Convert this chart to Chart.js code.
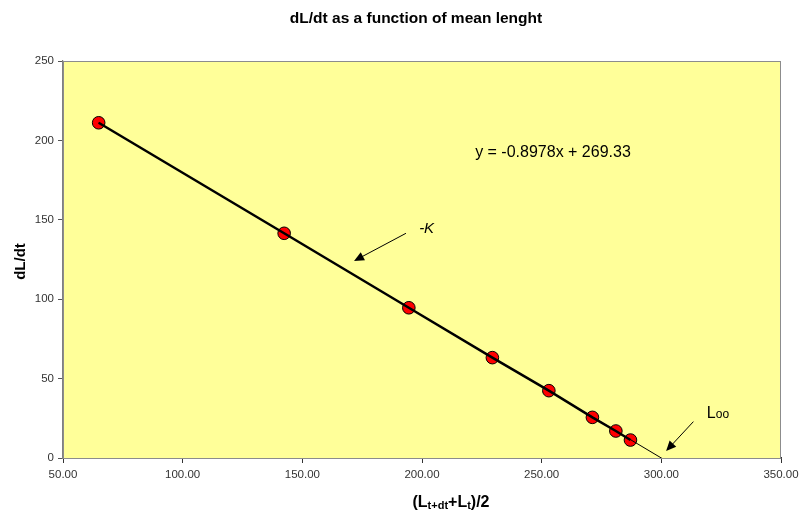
<!DOCTYPE html>
<html>
<head>
<meta charset="utf-8">
<script src="https://cdn.jsdelivr.net/npm/chart.js@4"></script>
<style>
  html, body { margin: 0; padding: 0; background: #ffffff; }
  #wrap { width: 799px; height: 513px; position: relative; }
</style>
</head>
<body>
<div id="wrap"><canvas id="c" width="799" height="513"></canvas></div>
<script>
// Mean length (L(t+dt)+L(t))/2 and growth rate dL/dt
const meanLength = [64.9, 142.4, 194.5, 229.4, 253.0, 271.2, 281.0, 287.1];
const growthRate = [211.1, 141.5, 94.6, 63.2, 42.4, 25.6, 17.0, 11.3];

// Linear trendline coefficients, projected forward past the last observation
const slope = -0.8978;
const intercept = 269.33;
const trendEndX = 302;

const xTicks = [50, 100, 150, 200, 250, 300, 350];
const yTicks = [0, 50, 100, 150, 200, 250];

const points = meanLength.map((x, i) => ({ x: x, y: growthRate[i] }));
const trend = [meanLength[0], trendEndX].map(x => ({ x: x, y: slope * x + intercept }));

const FONT = '"Liberation Sans", Arial, Helvetica, sans-serif';

function arrow(ctx, x0, y0, x1, y1) {
  const ang = Math.atan2(y1 - y0, x1 - x0);
  const len = 10, half = 4.5;
  ctx.save();
  ctx.strokeStyle = '#000';
  ctx.fillStyle = '#000';
  ctx.lineWidth = 1;
  ctx.beginPath();
  ctx.moveTo(x0, y0);
  ctx.lineTo(x1 - Math.cos(ang) * len * 0.8, y1 - Math.sin(ang) * len * 0.8);
  ctx.stroke();
  ctx.beginPath();
  ctx.moveTo(x1, y1);
  ctx.lineTo(x1 - Math.cos(ang) * len + Math.sin(ang) * half, y1 - Math.sin(ang) * len - Math.cos(ang) * half);
  ctx.lineTo(x1 - Math.cos(ang) * len - Math.sin(ang) * half, y1 - Math.sin(ang) * len + Math.cos(ang) * half);
  ctx.closePath();
  ctx.fill();
  ctx.restore();
}

const decor = {
  id: 'decor',
  beforeDatasetsDraw(chart) {
    const { ctx, chartArea: a } = chart;
    ctx.save();
    ctx.fillStyle = '#FFFF99';
    ctx.fillRect(a.left, a.top, a.right - a.left, a.bottom - a.top);
    ctx.strokeStyle = '#8c8c8c';
    ctx.lineWidth = 1;
    ctx.strokeRect(a.left + 0.5, a.top + 0.5, a.right - a.left - 1, a.bottom - a.top);
    ctx.restore();
  },
  afterDraw(chart) {
    const { ctx, chartArea: a, scales } = chart;
    const X = v => scales.x.getPixelForValue(v);
    const Y = v => scales.y.getPixelForValue(v);
    ctx.save();
    ctx.fillStyle = '#000';
    ctx.textBaseline = 'alphabetic';

    // Title
    ctx.font = 'bold 15.5px ' + FONT;
    ctx.textAlign = 'center';
    ctx.fillText('dL/dt as a function of mean lenght', 416, 23);

    // Y axis title
    ctx.save();
    ctx.translate(25, (a.top + a.bottom) / 2 + 2);
    ctx.rotate(-Math.PI / 2);
    ctx.font = 'bold 15px ' + FONT;
    ctx.textAlign = 'center';
    ctx.fillText('dL/dt', 0, 0);
    ctx.restore();

    // X axis title with subscripts
    const parts = [
      ['(L', false], ['t+dt', true], ['+L', false], ['t', true], [')/2', false]
    ];
    const big = 'bold 16px ' + FONT, small = 'bold 11px ' + FONT;
    let w = 0;
    parts.forEach(p => { ctx.font = p[1] ? small : big; w += ctx.measureText(p[0]).width; });
    let xx = 451 - w / 2;
    const base = 507;
    ctx.textAlign = 'left';
    parts.forEach(p => {
      ctx.font = p[1] ? small : big;
      ctx.fillText(p[0], xx, p[1] ? base + 2 : base);
      xx += ctx.measureText(p[0]).width;
    });

    // Regression equation
    ctx.font = '16px ' + FONT;
    ctx.fillText('y = ' + slope.toFixed(4) + 'x + ' + intercept.toFixed(2), X(222.2), Y(189.7));

    // -K annotation
    ctx.font = 'italic 15px ' + FONT;
    ctx.fillText('-K', X(198.8), Y(141.7));
    arrow(ctx, X(193.3), Y(141.5), X(171.6), Y(124.1));

    // L infinity annotation
    ctx.font = '16px ' + FONT;
    const lx = X(319.0), ly = Y(25.0);
    ctx.fillText('L', lx, ly);
    const lw = ctx.measureText('L').width;
    ctx.font = '12px ' + FONT;
    ctx.fillText('oo', lx + lw, ly);
    arrow(ctx, X(313.4), Y(22.9), X(302.0), Y(4.4));

    ctx.restore();
  }
};

new Chart(document.getElementById('c'), {
  type: 'scatter',
  data: {
    datasets: [
      {
        data: points,
        showLine: true,
        borderColor: '#000',
        borderWidth: 2.5,
        pointRadius: 0,
        order: 0
      },
      {
        data: trend,
        showLine: true,
        borderColor: '#000',
        borderWidth: 1,
        pointRadius: 0,
        clip: 0,
        order: 1
      },
      {
        data: points,
        showLine: false,
        pointRadius: 6.3,
        pointBackgroundColor: '#FF0000',
        pointBorderColor: '#000',
        pointBorderWidth: 1,
        order: 2
      }
    ]
  },
  options: {
    responsive: false,
    animation: false,
    events: [],
    layout: { padding: { left: 0, top: 61, right: 18, bottom: 0 } },
    plugins: { legend: { display: false }, tooltip: { enabled: false }, title: { display: false } },
    scales: {
      x: {
        type: 'linear',
        min: xTicks[0],
        max: xTicks[xTicks.length - 1],
        afterBuildTicks: s => { s.ticks = xTicks.map(v => ({ value: v })); },
        afterFit: s => { s.height = 55; s.paddingLeft = 0; s.paddingRight = 0; },
        grid: { drawOnChartArea: false, drawTicks: true, tickLength: 5, color: '#333', lineWidth: 1 },
        border: { display: true, color: '#333', width: 1.2 },
        ticks: {
          padding: 5,
          color: '#333',
          font: { family: FONT, size: 11.5 },
          maxRotation: 0,
          callback: v => Number(v).toFixed(2)
        }
      },
      y: {
        type: 'linear',
        min: yTicks[0],
        max: yTicks[yTicks.length - 1],
        afterBuildTicks: s => { s.ticks = yTicks.map(v => ({ value: v })); },
        afterFit: s => { s.width = 63; s.paddingTop = 0; s.paddingBottom = 0; },
        grid: { drawOnChartArea: false, drawTicks: true, tickLength: 5, color: '#555', lineWidth: 1 },
        border: { display: true, color: '#808080', width: 1.2 },
        ticks: {
          padding: 4,
          color: '#333',
          font: { family: FONT, size: 11.5 },
          callback: v => String(v)
        }
      }
    }
  },
  plugins: [decor]
});
</script>
</body>
</html>
